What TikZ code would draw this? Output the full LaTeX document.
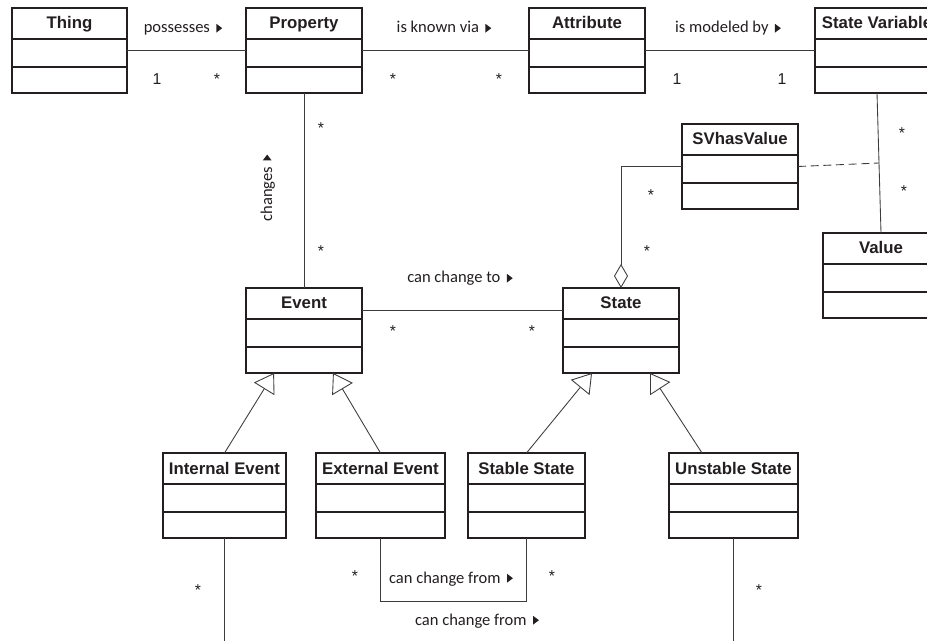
\documentclass[tikz,border=0pt]{standalone}
\usepackage{fontspec}
\setmainfont{Liberation Sans}
\newfontfamily\labelfont{Carlito}
\usetikzlibrary{arrows.meta,calc}

\definecolor{ink}{HTML}{231F20}
\definecolor{wire}{HTML}{3C3C3C}

% small filled reading-direction triangle placed after association names
\newcommand\navtri{\hspace{4.8pt}\tikz[baseline=0pt]\fill[ink] (0pt,0.3pt) -- (0pt,6.9pt) -- (4.4pt,3.6pt) -- cycle;}

\tikzset{
  classbox/.style={draw=ink, line width=0.95pt, fill=white, inner sep=0pt, outer sep=0pt, minimum height=63.75pt},
  divider/.style={draw=ink, line width=0.95pt},
  classname/.style={font=\bfseries\fontsize{12.6}{14}\selectfont, text=ink, anchor=base, inner sep=0pt},
  assoc/.style={draw=wire, line width=0.65pt},
  rolelabel/.style={font=\labelfont\fontsize{12.4}{14}\selectfont, text=ink, anchor=base, inner sep=0pt},
  mult/.style={font=\fontsize{11.8}{13}\selectfont, text=ink, anchor=base, inner sep=0pt},
  generalizes/.style={assoc, -{Triangle[open, length=14pt, width=18pt, fill=white]}},
  aggregate/.style={assoc, -{Diamond[open, length=18pt, width=10.5pt, fill=white]}},
  linkdash/.style={assoc, dash pattern=on 6pt off 3.5pt},
}

% UML class: name, left x, top y, width, title
\newcommand\umlclass[5]{%
  \node[classbox, minimum width=#4*0.75pt, anchor=north west] (#1) at (#2,#3) {};
  \draw[divider] ([yshift=-23.25pt]#1.north west) -- ([yshift=-23.25pt]#1.north east);
  \draw[divider] ([yshift=-44.25pt]#1.north west) -- ([yshift=-44.25pt]#1.north east);
  \node[classname] (#1-title) at ([yshift=-15.75pt]#1.north) {#5};
}

\begin{document}
\begin{tikzpicture}[x=0.75pt, y=-0.75pt]
\useasboundingbox (0,0) rectangle (927,641);
\fill[white] (0,0) rectangle (927,641);
\clip (0,0) rectangle (927,641);

% classes
\umlclass{Thing}{12}{8}{115}{Thing}
\umlclass{Property}{246}{8}{116}{Property}
\umlclass{Attribute}{529}{8}{116}{Attribute}
\umlclass{StateVar}{815}{8}{124}{State Variable}
\umlclass{SVhasValue}{682}{124}{116}{SVhasValue}
\umlclass{Value}{823}{233}{116}{Value}
\umlclass{Event}{246}{288}{116}{Event}
\umlclass{State}{563}{288}{116}{State}
\umlclass{IntEvent}{163}{453}{123}{Internal Event}
\umlclass{ExtEvent}{316}{453}{129}{External Event}
\umlclass{StableState}{468}{453}{117}{Stable State}
\umlclass{UnstableState}{669}{453}{129}{Unstable State}

% associations
\draw[assoc] (Thing.east) -- (Property.west);
\draw[assoc] (Property.east) -- (Attribute.west);
\draw[assoc] (Attribute.east) -- (StateVar.west);
\draw[assoc] (StateVar.south) -- (Value.north);
\coordinate (svlink) at ($(StateVar.south)!0.5!(Value.north)$);
\draw[linkdash] (SVhasValue.east) -- (svlink);
\draw[aggregate] (SVhasValue.west) -| (State.north);
\draw[assoc] (Property.south) -- (Event.north);
\draw[assoc] ([yshift=-16.5pt]Event.north east) -- ([yshift=-16.5pt]State.north west);
\draw[assoc] (ExtEvent.south) -- ++(0,63) -| (StableState.south);
\coordinate (pagefoot) at (0,646);
\draw[assoc] (IntEvent.south) -- (IntEvent.south |- pagefoot);
\draw[assoc] (UnstableState.south) -- (UnstableState.south |- pagefoot);

% generalizations
\draw[generalizes] (IntEvent.north) -- ([xshift=-22.5pt]Event.south);
\draw[generalizes] (ExtEvent.north) -- ([xshift=21.75pt]Event.south);
\draw[generalizes] (StableState.north) -- ([xshift=-21.75pt]State.south);
\draw[generalizes] ([xshift=-23.6pt]UnstableState.north) -- ([xshift=21.75pt]State.south);

% association names
\node[rolelabel] (lPossesses) at (183,33) {possesses\navtri};
\node[rolelabel] (lKnown) at (444,33) {is known via\navtri};
\node[rolelabel] (lModeled) at (728,33) {is modeled by\navtri};
\node[rolelabel] (lChangeTo) at (460,283) {can change to\navtri};
\node[rolelabel] (lFromA) at (451,583) {can change from\navtri};
\node[rolelabel] (lFromB) at (477,625) {can change from\navtri};
\node[rolelabel, rotate=90] (lChanges) at (272,188) {changes\navtri};

% multiplicities
\node[mult] (m1) at (157,85) {1};
\node[mult] (m2) at (217,85) {*};
\node[mult] (m3) at (393,85) {*};
\node[mult] (m4) at (499,85) {*};
\node[mult] (m5) at (677,85) {1};
\node[mult] (m6) at (782,85) {1};
\node[mult] (m7) at (321,134) {*};
\node[mult] (m8) at (321,257) {*};
\node[mult] (m9) at (902,139) {*};
\node[mult] (m10) at (904,197) {*};
\node[mult] (m11) at (651,201) {*};
\node[mult] (m12) at (647,257) {*};
\node[mult] (m13) at (393,336) {*};
\node[mult] (m14) at (532,336) {*};
\node[mult] (m15) at (198,595) {*};
\node[mult] (m16) at (759,595) {*};
\node[mult] (m17) at (355,581) {*};
\node[mult] (m18) at (552,581) {*};
\end{tikzpicture}
\end{document}
